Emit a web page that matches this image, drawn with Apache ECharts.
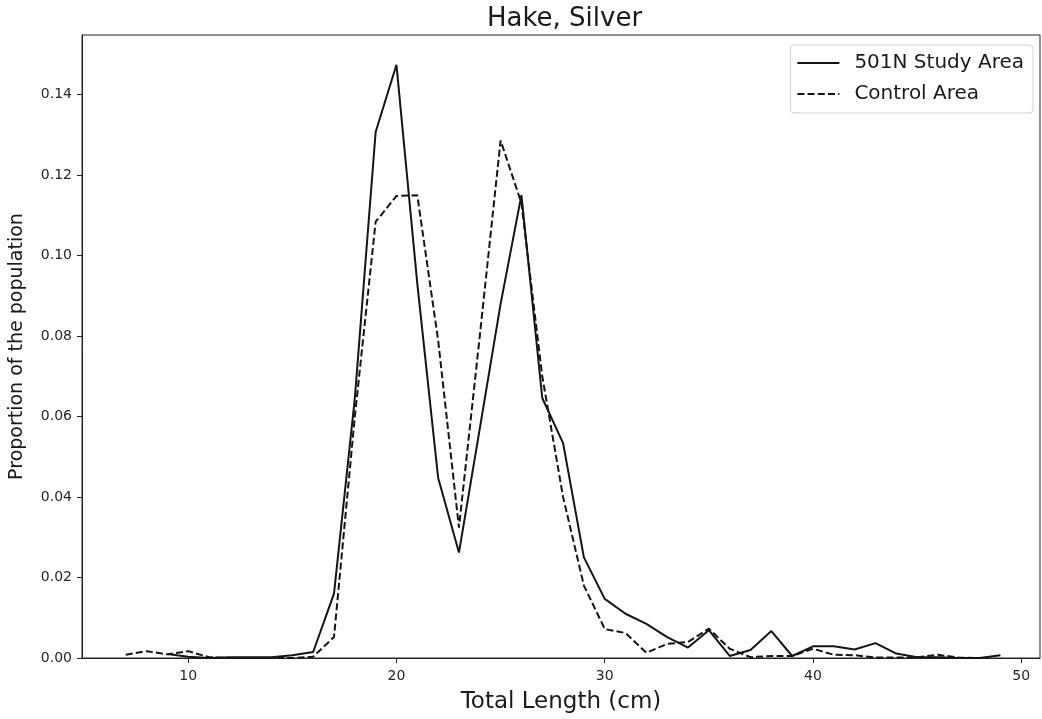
<!DOCTYPE html>
<html>
<head>
<meta charset="utf-8">
<script src="https://cdn.jsdelivr.net/npm/echarts@6/dist/echarts.min.js"></script>
<style>html,body{margin:0;padding:0;background:#fff;}#c{width:1042px;height:719px;}</style>
</head>
<body>
<div id="c"></div>
<script>
const studyLengths = [9,10,11,12,13,14,15,16,17,18,19,20,21,22,23,24,25,26,27,28,29,30,31,32,33,34,35,36,37,38,39,40,41,42,43,44,45,46,47,48,49];
const studyValues  = [0.0010,0.0003,0.0000,0.0002,0.0002,0.0002,0.0007,0.0015,0.0160,0.0645,0.1307,0.1474,0.0930,0.0448,0.0262,0.0570,0.0880,0.1150,0.0646,0.0534,0.0250,0.0147,0.0110,0.0085,0.0052,0.0026,0.0069,0.0005,0.0020,0.0067,0.0005,0.0029,0.0029,0.0021,0.0037,0.0011,0.0002,0.0002,0.0000,0.0000,0.0007];
const controlLengths = [7,8,9,10,11,12,13,14,15,16,17,18,19,20,21,22,23,24,25,26,27,28,29,30,31,32,33,34,35,36,37,38,39,40,41,42,43,44,45,46,47,48];
const controlValues  = [0.0008,0.0017,0.0009,0.0017,0.0002,0.0000,0.0000,0.0000,0.0000,0.0003,0.0052,0.0600,0.1084,0.1148,0.1150,0.0790,0.0324,0.0800,0.1286,0.1130,0.0700,0.0400,0.0180,0.0072,0.0062,0.0013,0.0035,0.0040,0.0073,0.0023,0.0002,0.0005,0.0005,0.0023,0.0008,0.0007,0.0001,0.0001,0.0002,0.0008,0.0001,0.0000];
const xTicks = [10,20,30,40,50];
const yTicks = [0,0.02,0.04,0.06,0.08,0.10,0.12,0.14];
const titleText = 'Hake, Silver';
const xName = 'Total Length (cm)';
const yName = 'Proportion of the population';
const seriesNames = ['501N Study Area','Control Area'];

const pair = (xs, ys) => xs.map((x, i) => [x, ys[i]]);
const FONT = 'DejaVu Sans';
const INK = '#141414';
const chart = echarts.init(document.getElementById('c'), null, {renderer: 'canvas'});
chart.setOption({
  animation: false,
  backgroundColor: '#fff',
  title: {
    text: titleText, left: 559.5, textAlign: 'center', top: 1,
    textStyle: {fontFamily: FONT, fontSize: 26, fontWeight: 'normal', color: '#1a1a1a'}
  },
  grid: {left: 79, right: 2, top: 35, bottom: 58, show: true, borderColor: '#222', borderWidth: 1, containLabel: false},
  legend: {
    orient: 'vertical', right: 9, top: 45,
    data: seriesNames,
    itemWidth: 42, itemHeight: 14, itemGap: 9,
    padding: [7, 9, 8, 6],
    borderColor: '#d0d0d0', borderWidth: 1, borderRadius: 4,
    backgroundColor: '#fff',
    itemStyle: {opacity: 0},
    textStyle: {fontFamily: FONT, fontSize: 20, lineHeight: 22, color: '#1a1a1a', padding: [0, 0, 0, 10]}
  },
  xAxis: {
    type: 'value', min: 4.9, max: 50.9,
    name: xName, nameLocation: 'middle', nameGap: 33,
    nameTextStyle: {fontFamily: FONT, fontSize: 23, color: '#1a1a1a'},
    axisLine: {show: true, lineStyle: {color: '#222', width: 1}},
    axisTick: {show: true, inside: false, length: 5, customValues: xTicks, lineStyle: {color: '#222'}},
    axisLabel: {customValues: xTicks, fontFamily: FONT, fontSize: 14, color: '#262626', margin: 11},
    splitLine: {show: false}
  },
  yAxis: {
    type: 'value', min: 0, max: 0.1548,
    name: yName, nameLocation: 'middle', nameGap: 55, nameRotate: 90,
    nameTextStyle: {fontFamily: FONT, fontSize: 19, color: '#1a1a1a'},
    axisLine: {show: true, lineStyle: {color: '#222', width: 1}},
    axisTick: {show: true, inside: false, length: 5, customValues: yTicks, lineStyle: {color: '#222'}},
    axisLabel: {customValues: yTicks, fontFamily: FONT, fontSize: 14, color: '#262626', margin: 10,
      formatter: v => v.toFixed(2)},
    splitLine: {show: false}
  },
  series: [
    {
      name: seriesNames[0], type: 'line', data: pair(studyLengths, studyValues),
      symbol: 'none', showSymbol: false, silent: true,
      lineStyle: {color: INK, width: 2, type: 'solid'},
      itemStyle: {color: INK}
    },
    {
      name: seriesNames[1], type: 'line', data: pair(controlLengths, controlValues),
      symbol: 'none', showSymbol: false, silent: true,
      lineStyle: {color: INK, width: 2, type: [7, 3.2]},
      itemStyle: {color: INK}
    }
  ]
});
</script>
</body>
</html>
